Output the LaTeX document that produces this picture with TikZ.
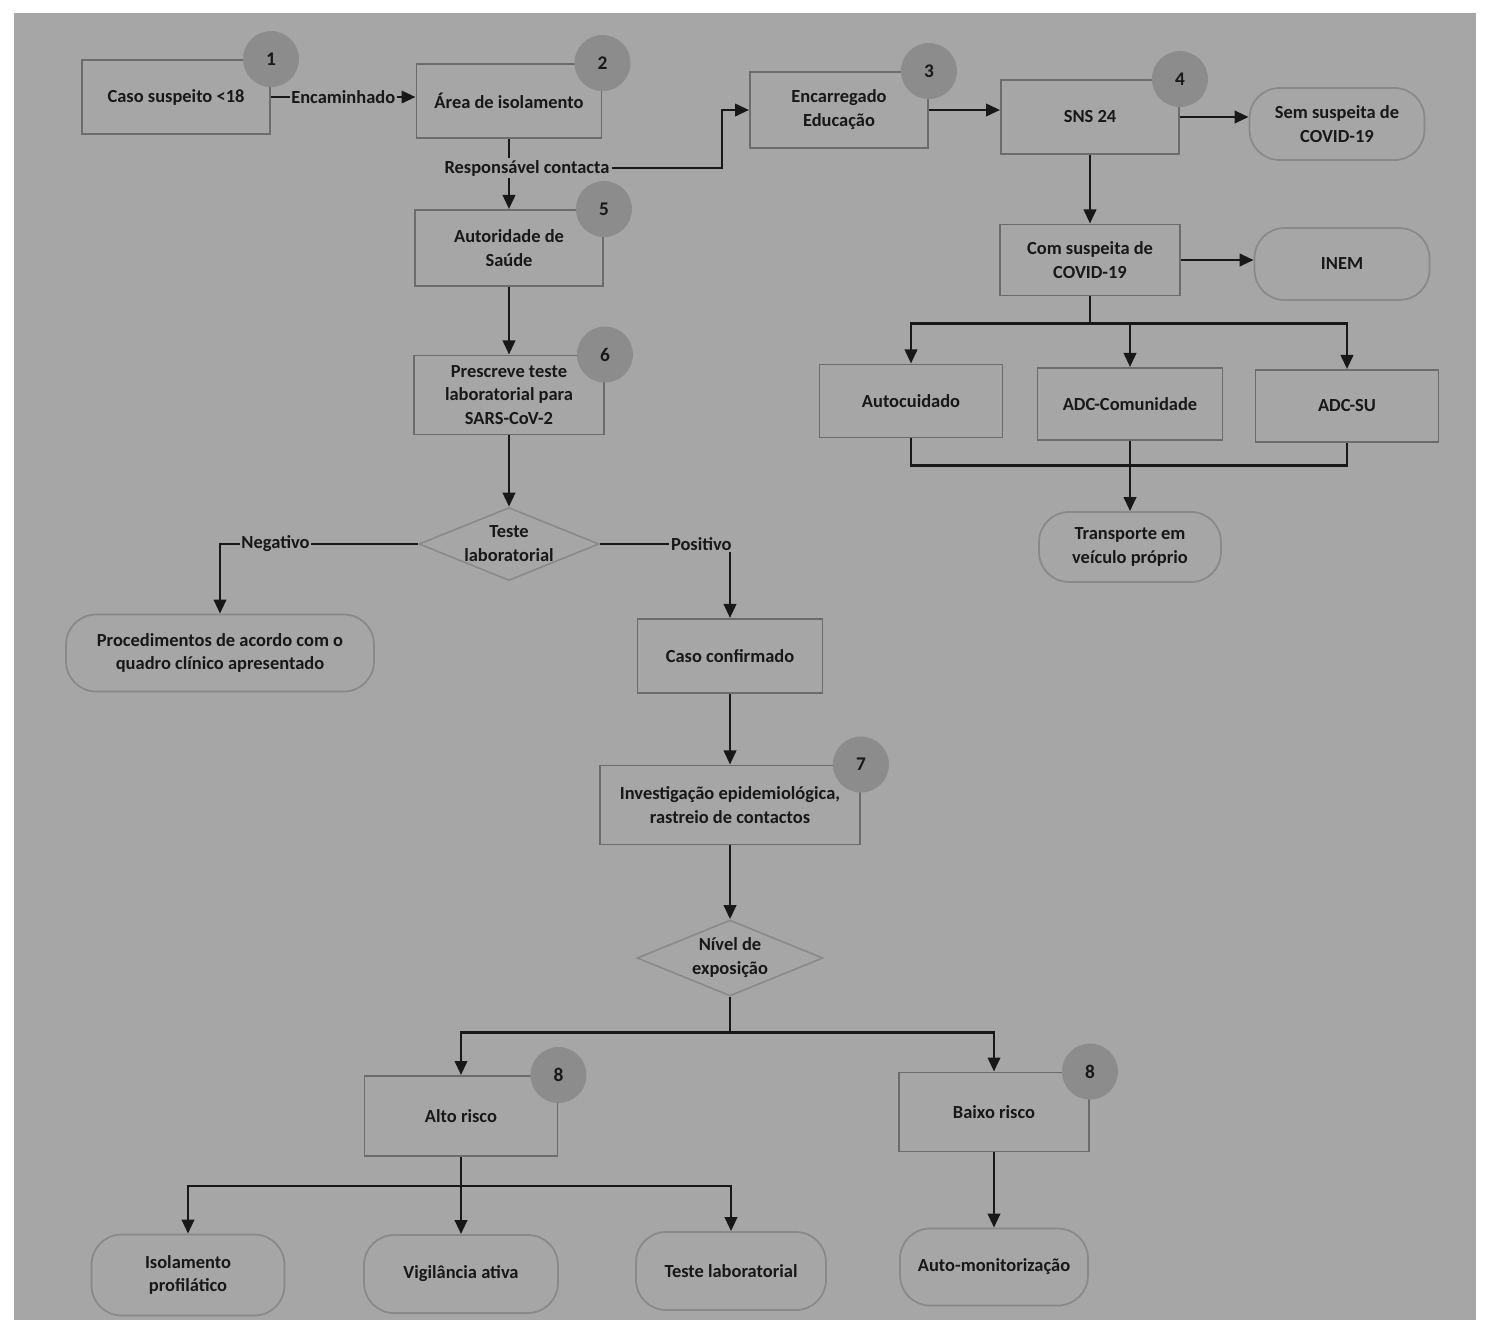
\documentclass[tikz,border=0pt]{standalone}
\usepackage{fontspec}
\setmainfont{Carlito}
\usepackage{xcolor}
\definecolor{scanGray}{RGB}{166,166,166}
\definecolor{scanEdge}{RGB}{108,108,108}
\definecolor{scanBadge}{RGB}{140,140,140}
\definecolor{scanInk}{RGB}{24,24,24}
\usetikzlibrary{
    shapes.geometric,
    arrows.meta,
    positioning
}

\begin{document}
\begin{tikzpicture}[
    x=0.02cm, y=-0.02cm,
    every node/.style={font=\fontsize{10.5}{13.6}\selectfont\bfseries, text=scanInk},
    procBox/.style={
        rectangle, draw=scanEdge, line width=1.1pt, fill=scanGray,
        align=center, inner sep=2pt,
        minimum width=3.7cm, minimum height=1.48cm
    },
    termBox/.style={
        rectangle, rounded corners=0.6cm, draw=scanEdge!80, line width=1pt,
        fill=scanGray, align=center, inner sep=2pt,
        minimum width=3.7cm, minimum height=1.5cm
    },
    decisionBox/.style={
        diamond, aspect=2.5, draw=scanEdge!80, line width=0.9pt,
        fill=scanGray, align=center, inner sep=0pt,
        minimum width=3.6cm, minimum height=1.46cm
    },
    numBadge/.style={
        circle, fill=scanBadge, inner sep=0pt, minimum size=1.12cm,
        font=\fontsize{11}{13}\selectfont\bfseries
    },
    flowArrow/.style={
        -{Triangle[length=8pt, width=7pt]}, line width=1.6pt, draw=scanInk
    },
    flowLine/.style={
        line width=1.6pt, draw=scanInk
    },
    edgeLabel/.style={
        fill=scanGray, inner sep=1pt
    }
]

    % Page and scanned sheet
    \useasboundingbox (0,0) rectangle (1488,1326);
    \fill[white] (0,0) rectangle (1488,1326);
    \fill[scanGray] (14,13) rectangle (1476,1320);

    % Top row
    \node[procBox, minimum width=3.76cm] (nCaso) at (176,97) {Caso suspeito <18};
    \node[procBox] (nArea) at (509,101) {Área de isolamento};
    \node[procBox, minimum width=3.56cm, minimum height=1.52cm] (nEnc) at (839,110) {Encarregado\\Educação};
    \node[procBox, minimum width=3.56cm] (nSns) at (1090,117) {SNS 24};
    \node[termBox, minimum width=3.5cm, minimum height=1.44cm] (nSem) at (1337,124) {Sem suspeita de\\COVID-19};

    % SNS 24 branch
    \node[procBox, minimum width=3.6cm, minimum height=1.42cm] (nCom) at (1090,260) {Com suspeita de\\COVID-19};
    \node[termBox, minimum width=3.5cm, minimum height=1.44cm] (nInem) at (1342,264) {INEM};
    \node[procBox, minimum width=3.66cm, minimum height=1.46cm] (nAutoc) at (911,401) {Autocuidado};
    \node[procBox, minimum height=1.44cm] (nAdcCom) at (1130,404) {ADC-Comunidade};
    \node[procBox, minimum width=3.66cm, minimum height=1.44cm] (nAdcSu) at (1347,406) {ADC-SU};
    \node[termBox, minimum width=3.64cm, minimum height=1.4cm] (nTransp) at (1130,547) {Transporte em\\veículo próprio};

    % Health authority column
    \node[procBox, minimum width=3.76cm, minimum height=1.52cm] (nAutor) at (509,248) {Autoridade de\\Saúde};
    \node[procBox, minimum width=3.8cm, minimum height=1.58cm] (nPresc) at (509,395) {Prescreve teste\\laboratorial para\\SARS-CoV-2};
    \node[decisionBox] (nTeste) at (509,544) {Teste\\laboratorial};
    \node[termBox, minimum width=6.16cm, minimum height=1.54cm] (nProc) at (220,653) {Procedimentos de acordo com o\\quadro clínico apresentado};
    \node[procBox] (nConf) at (730,656) {Caso confirmado};
    \node[procBox, minimum width=5.2cm, minimum height=1.58cm] (nInv) at (730,805) {Investigação epidemiológica,\\rastreio de contactos};
    \node[decisionBox, minimum width=3.72cm, minimum height=1.52cm] (nNivel) at (730,958) {Nível de\\exposição};

    % Risk levels
    \node[procBox, minimum width=3.86cm, minimum height=1.6cm] (nAlto) at (461,1116) {Alto risco};
    \node[procBox, minimum width=3.8cm, minimum height=1.58cm] (nBaixo) at (994,1112) {Baixo risco};
    \node[termBox, minimum width=3.86cm, minimum height=1.62cm] (nIsol) at (188,1275) {Isolamento\\profilático};
    \node[termBox, minimum width=3.88cm, minimum height=1.56cm] (nVigil) at (461,1274) {Vigilância ativa};
    \node[termBox, minimum width=3.8cm, minimum height=1.56cm] (nTesteLab) at (731,1271) {Teste laboratorial};
    \node[termBox, minimum width=3.76cm, minimum height=1.54cm] (nAutoMon) at (994,1267) {Auto-monitorização};

    % Step badges
    \node[numBadge] (b1) at (nCaso.north east) {1};
    \node[numBadge] (b2) at (nArea.north east) {2};
    \node[numBadge] (b3) at (nEnc.north east) {3};
    \node[numBadge] (b4) at (nSns.north east) {4};
    \node[numBadge] (b5) at (nAutor.north east) {5};
    \node[numBadge] (b6) at (nPresc.north east) {6};
    \node[numBadge] (b7) at (nInv.north east) {7};
    \node[numBadge] (b8a) at (nAlto.north east) {8};
    \node[numBadge] (b8b) at (nBaixo.north east) {8};

    % Connectors, top row
    \draw[flowArrow] (nCaso.east) -- node[edgeLabel] {Encaminhado} (nCaso.east -| nArea.west);
    \draw[flowArrow] (nArea.south) -- (nAutor.north);
    \node[edgeLabel] (lblResp) at (527,168) {Responsável contacta};
    \coordinate (bendResp) at (722,168);
    \draw[flowArrow] (lblResp.east) -- (bendResp) |- (nEnc.west);
    \draw[flowArrow] (nEnc.east) -- (nEnc.east -| nSns.west);
    \draw[flowArrow] (nSns.east) -- (nSns.east -| nSem.west);

    % Connectors, SNS 24 branch
    \draw[flowArrow] (nSns.south) -- (nCom.north);
    \draw[flowArrow] (nCom.east) -- (nCom.east -| nInem.west);
    \draw[flowLine] (nCom.south) -- ++(0,27) coordinate (busCom);
    \draw[flowArrow] (busCom) -| (nAutoc.north);
    \draw[flowArrow] (busCom) -| (nAdcCom.north);
    \draw[flowArrow] (busCom) -| (nAdcSu.north);
    \draw[flowLine] (nAutoc.south) -- ++(0,27) coordinate (busTr) -| (nAdcSu.south);
    \draw[flowArrow] (nAdcCom.south) -- (nTransp.north);

    % Connectors, test and investigation
    \draw[flowArrow] (nAutor.south) -- (nPresc.north);
    \draw[flowArrow] (nPresc.south) -- (nTeste.north);
    \draw[flowArrow] (nTeste.west) -| node[edgeLabel, pos=0.36] {Negativo} (nProc.north);
    \draw[flowArrow] (nTeste.east) -| node[edgeLabel, pos=0.39] {Positivo} (nConf.north);
    \draw[flowArrow] (nConf.south) -- (nInv.north);
    \draw[flowArrow] (nInv.south) -- (nNivel.north);

    % Connectors, risk levels
    \draw[flowLine] (nNivel.south) -- ++(0,36) coordinate (busNivel);
    \draw[flowArrow] (busNivel) -| (nAlto.north);
    \draw[flowArrow] (busNivel) -| (nBaixo.north);
    \draw[flowLine] (nAlto.south) -- ++(0,29) coordinate (busAlto);
    \draw[flowArrow] (busAlto) -| (nIsol.north);
    \draw[flowArrow] (busAlto) -| (nTesteLab.north);
    \draw[flowArrow] (nAlto.south) -- (nVigil.north);
    \draw[flowArrow] (nBaixo.south) -- (nAutoMon.north);

\end{tikzpicture}
\end{document}
